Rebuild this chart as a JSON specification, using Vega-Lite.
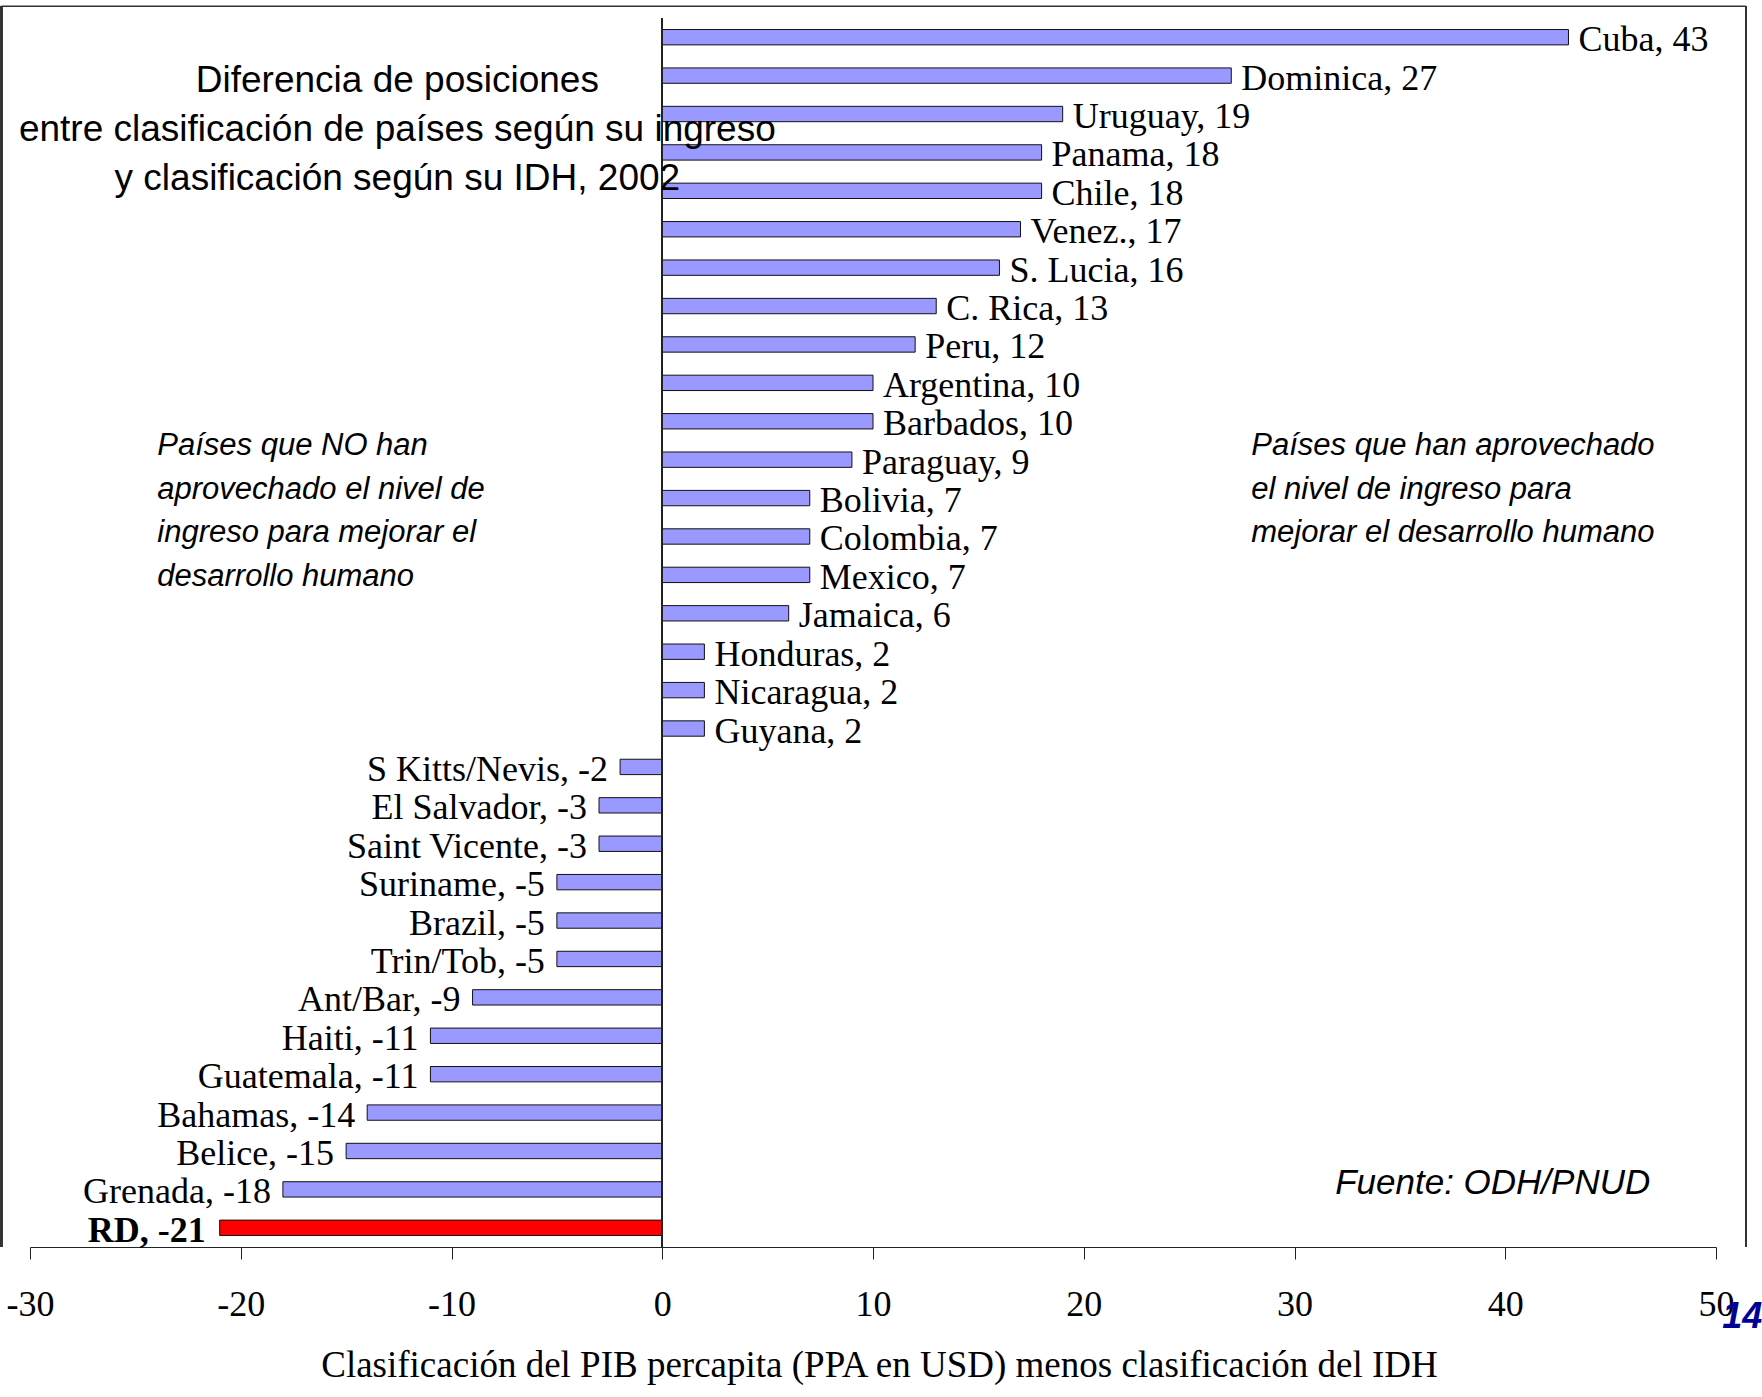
{
  "$schema": "https://vega.github.io/schema/vega-lite/v6.json",
  "width": 1686,
  "height": 1229,
  "autosize": {"type": "none"},
  "padding": {"left": 30, "top": 18, "right": 46, "bottom": 150},
  "background": "white",
  "config": {"view": {"stroke": null}},
  "data": {"values": [
    {"country": "Cuba", "value": 43, "label": "Cuba, 43"},
    {"country": "Dominica", "value": 27, "label": "Dominica, 27"},
    {"country": "Uruguay", "value": 19, "label": "Uruguay, 19"},
    {"country": "Panama", "value": 18, "label": "Panama, 18"},
    {"country": "Chile", "value": 18, "label": "Chile, 18"},
    {"country": "Venez.", "value": 17, "label": "Venez., 17"},
    {"country": "S. Lucia", "value": 16, "label": "S. Lucia, 16"},
    {"country": "C. Rica", "value": 13, "label": "C. Rica, 13"},
    {"country": "Peru", "value": 12, "label": "Peru, 12"},
    {"country": "Argentina", "value": 10, "label": "Argentina, 10"},
    {"country": "Barbados", "value": 10, "label": "Barbados, 10"},
    {"country": "Paraguay", "value": 9, "label": "Paraguay, 9"},
    {"country": "Bolivia", "value": 7, "label": "Bolivia, 7"},
    {"country": "Colombia", "value": 7, "label": "Colombia, 7"},
    {"country": "Mexico", "value": 7, "label": "Mexico, 7"},
    {"country": "Jamaica", "value": 6, "label": "Jamaica, 6"},
    {"country": "Honduras", "value": 2, "label": "Honduras, 2"},
    {"country": "Nicaragua", "value": 2, "label": "Nicaragua, 2"},
    {"country": "Guyana", "value": 2, "label": "Guyana, 2"},
    {"country": "S Kitts/Nevis", "value": -2, "label": "S Kitts/Nevis, -2"},
    {"country": "El Salvador", "value": -3, "label": "El Salvador, -3"},
    {"country": "Saint Vicente", "value": -3, "label": "Saint Vicente, -3"},
    {"country": "Suriname", "value": -5, "label": "Suriname, -5"},
    {"country": "Brazil", "value": -5, "label": "Brazil, -5"},
    {"country": "Trin/Tob", "value": -5, "label": "Trin/Tob, -5"},
    {"country": "Ant/Bar", "value": -9, "label": "Ant/Bar, -9"},
    {"country": "Haiti", "value": -11, "label": "Haiti, -11"},
    {"country": "Guatemala", "value": -11, "label": "Guatemala, -11"},
    {"country": "Bahamas", "value": -14, "label": "Bahamas, -14"},
    {"country": "Belice", "value": -15, "label": "Belice, -15"},
    {"country": "Grenada", "value": -18, "label": "Grenada, -18"},
    {"country": "RD", "value": -21, "label": "RD, -21"}
  ]},
  "encoding": {
    "y": {"field": "country", "type": "nominal", "sort": null, "axis": null,
          "scale": {"paddingInner": 0.6, "paddingOuter": 0.3}},
    "x": {"field": "value", "type": "quantitative",
          "scale": {"domain": [-30, 50], "nice": false, "zero": false},
          "axis": {
            "values": [-30, -20, -10, 0, 10, 20, 30, 40, 50],
            "labelExpr": "replace(datum.label, '\u2212', '-')",
            "grid": false,
            "domainColor": "#222222", "domainWidth": 1.2,
            "tickColor": "#222222", "tickSize": 12, "tickWidth": 1,
            "labelFont": "Liberation Serif", "labelFontSize": 36, "labelColor": "black",
            "labelPadding": 28, "labelFlush": false, "labelOverlap": false,
            "title": "Clasificación del PIB percapita (PPA en USD) menos clasificación del IDH",
            "titleFont": "Liberation Serif", "titleFontSize": 37, "titleFontWeight": "normal",
            "titleColor": "black", "titleY": 129, "titleBaseline": "alphabetic",
            "titleX": 849, "titleAlign": "center", "titleAnchor": null
          }}
  },
  "layer": [
    {
      "mark": {"type": "rule", "color": "#333333", "strokeWidth": 1.5, "yOffset": -12, "y2Offset": 170},
      "encoding": {"x": {"datum": -31.36, "type": "quantitative"}, "y": null}
    },
    {
      "mark": {"type": "rule", "color": "#333333", "strokeWidth": 1.5, "yOffset": -12, "y2Offset": 170},
      "encoding": {"x": {"datum": 51.42, "type": "quantitative"}, "y": null}
    },
    {
      "transform": [{"filter": "datum.country === 'Cuba'"}],
      "mark": {"type": "rule", "color": "#333333", "strokeWidth": 1.5, "yOffset": -31},
      "encoding": {"x": {"datum": -31.36, "type": "quantitative"}, "x2": {"datum": 51.42}}
    },
    {
      "mark": {"type": "bar", "stroke": "#111111", "strokeWidth": 1},
      "encoding": {
        "fill": {"condition": {"test": "datum.country === 'RD'", "value": "#FF0000"}, "value": "#9999FF"}
      }
    },
    {
      "mark": {"type": "rule", "color": "#222222", "strokeWidth": 1.2},
      "encoding": {"x": {"datum": 0, "type": "quantitative"}, "y": null}
    },
    {
      "transform": [{"filter": "datum.value > 0"}],
      "mark": {"type": "text", "align": "left", "baseline": "alphabetic", "dx": 10, "dy": 14,
               "font": "Liberation Serif", "fontSize": 36, "color": "black"},
      "encoding": {"text": {"field": "label"}}
    },
    {
      "transform": [{"filter": "datum.value < 0 && datum.country !== 'RD'"}],
      "mark": {"type": "text", "align": "right", "baseline": "alphabetic", "dx": -12, "dy": 14,
               "font": "Liberation Serif", "fontSize": 36, "color": "black"},
      "encoding": {"text": {"field": "label"}}
    },
    {
      "transform": [{"filter": "datum.country === 'RD'"}],
      "mark": {"type": "text", "align": "right", "baseline": "alphabetic", "dx": -14, "dy": 14,
               "font": "Liberation Serif", "fontSize": 36, "fontWeight": "bold", "color": "black"},
      "encoding": {"text": {"field": "label"}}
    },
    {
      "transform": [{"filter": "datum.country === 'Panama'"}],
      "mark": {"type": "text", "align": "center", "baseline": "middle",
               "font": "Liberation Sans", "fontSize": 37, "lineHeight": 49, "color": "black", "dy": -71,
               "text": ["Diferencia de posiciones", "entre clasificación de países según su ingreso", "y clasificación según su IDH, 2002"]},
      "encoding": {"x": {"datum": -12.57, "type": "quantitative"}}
    },
    {
      "transform": [{"filter": "datum.country === 'Bolivia'"}],
      "mark": {"type": "text", "align": "left", "baseline": "middle",
               "font": "Liberation Sans", "fontSize": 31, "fontStyle": "italic", "lineHeight": 43.5, "color": "black", "dy": -52,
               "text": ["Países que NO han", "aprovechado el nivel de", "ingreso para mejorar el", "desarrollo humano"]},
      "encoding": {"x": {"datum": -23.96, "type": "quantitative"}}
    },
    {
      "transform": [{"filter": "datum.country === 'Bolivia'"}],
      "mark": {"type": "text", "align": "left", "baseline": "middle",
               "font": "Liberation Sans", "fontSize": 31, "fontStyle": "italic", "lineHeight": 43.5, "color": "black", "dy": -52,
               "text": ["Países que han aprovechado", "el nivel de ingreso para", "mejorar el desarrollo humano"]},
      "encoding": {"x": {"datum": 27.95, "type": "quantitative"}}
    },
    {
      "transform": [{"filter": "datum.country === 'Grenada'"}],
      "mark": {"type": "text", "align": "left", "baseline": "middle",
               "font": "Liberation Sans", "fontSize": 35, "fontStyle": "italic", "color": "black", "dy": -6,
               "text": "Fuente: ODH/PNUD"},
      "encoding": {"x": {"datum": 31.93, "type": "quantitative"}}
    },
    {
      "transform": [{"filter": "datum.country === 'RD'"}],
      "mark": {"type": "text", "align": "center", "baseline": "middle",
               "font": "Liberation Sans", "fontSize": 36, "fontStyle": "italic", "fontWeight": "bold", "color": "#000099", "dy": 89,
               "text": "14"},
      "encoding": {"x": {"datum": 51.25, "type": "quantitative"}}
    }
  ]
}
